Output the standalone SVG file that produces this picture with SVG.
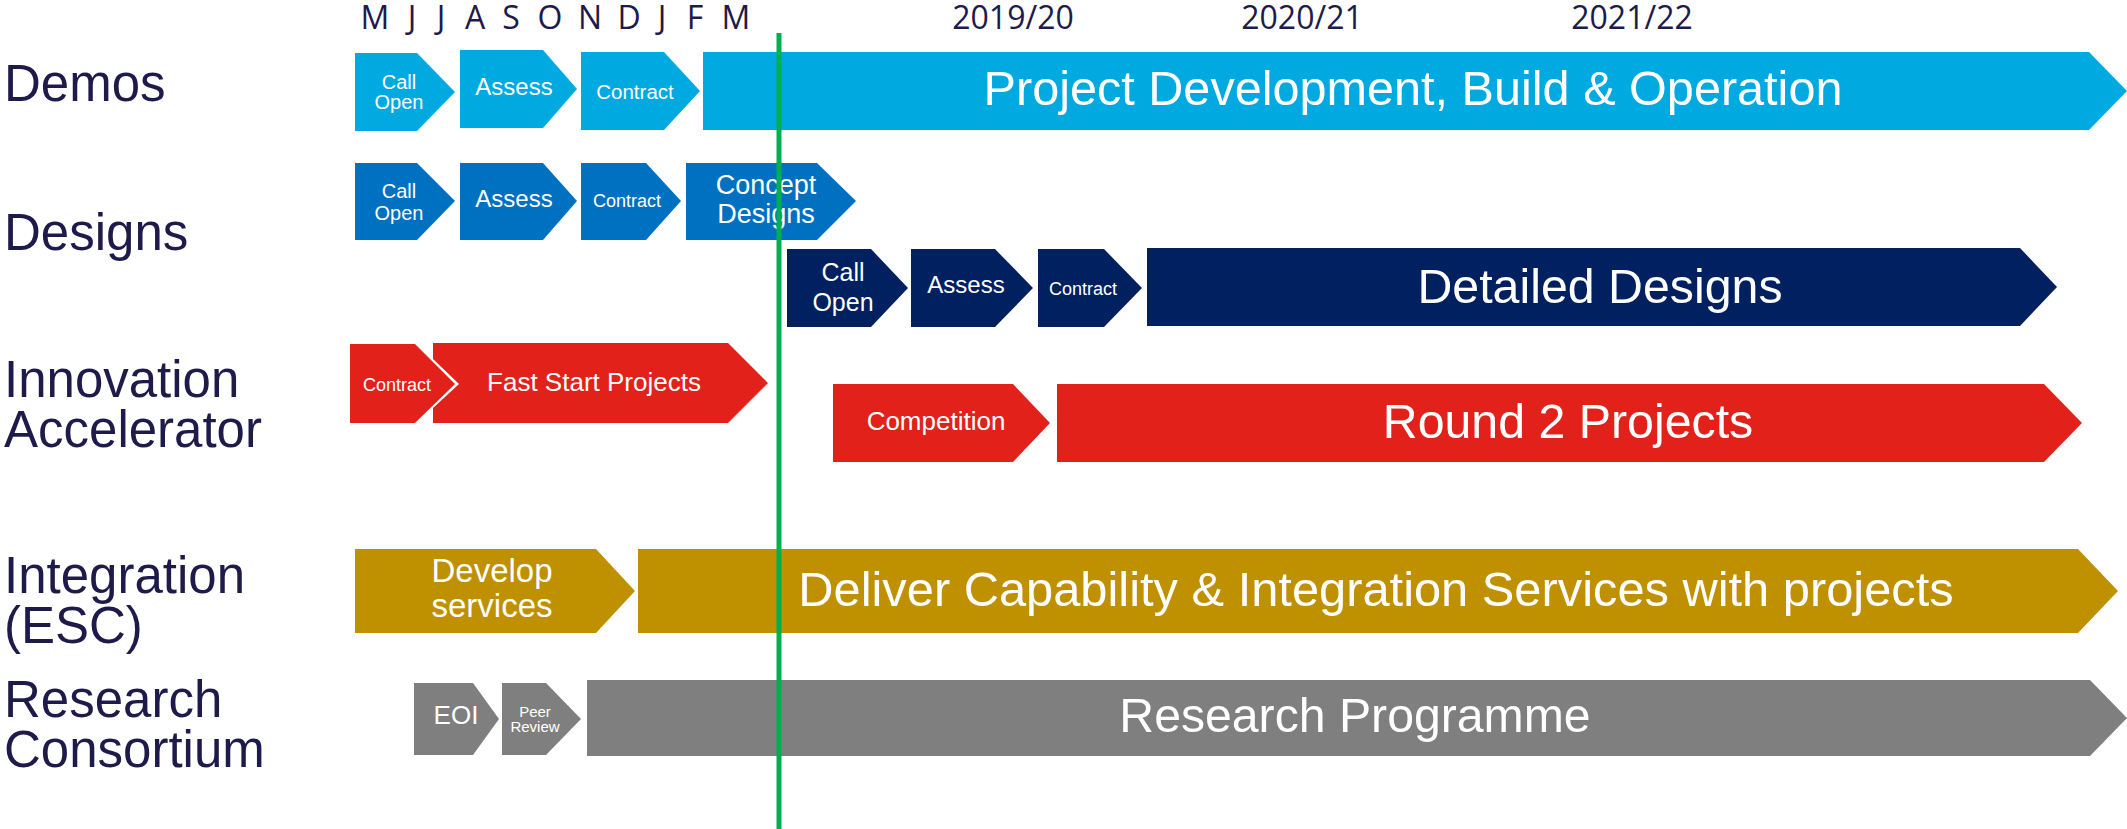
<svg xmlns="http://www.w3.org/2000/svg" width="2127" height="829" viewBox="0 0 2127 829">
<style>
  .lbl { font-family: "Liberation Sans", Arial, sans-serif; font-size: 51px; fill: #1E1A4A; }
  .hdr { font-family: "Open Sans", "Liberation Sans", sans-serif; font-size: 32px; fill: #1E1A4A; text-anchor: middle; }
  .t { font-family: "Liberation Sans", Arial, sans-serif; fill: #FFFFFF; text-anchor: middle; }
  .demo { fill: #00A9E0; }
  .des { fill: #0070C0; }
  .det { fill: #002060; }
  .red { fill: #E2211A; }
  .gold { fill: #BF9000; }
  .grey { fill: #7F7F7F; }
  .now { stroke: #00B050; stroke-width: 5; }
</style>
<rect width="2127" height="829" fill="#FFFFFF"/>

<g id="header">
  <text class="hdr" x="375" y="29">M</text>
  <text class="hdr" x="412" y="29">J</text>
  <text class="hdr" x="441" y="29">J</text>
  <text class="hdr" x="475" y="29">A</text>
  <text class="hdr" x="511" y="29">S</text>
  <text class="hdr" x="550" y="29">O</text>
  <text class="hdr" x="590" y="29">N</text>
  <text class="hdr" x="629" y="29">D</text>
  <text class="hdr" x="662" y="29">J</text>
  <text class="hdr" x="695" y="29">F</text>
  <text class="hdr" x="736" y="29">M</text>
  <text class="hdr" x="1013" y="29">2019/20</text>
  <text class="hdr" x="1302" y="29">2020/21</text>
  <text class="hdr" x="1632" y="29">2021/22</text>
</g>

<g id="row-labels">
  <text class="lbl" x="4" y="101">Demos</text>
  <text class="lbl" x="4" y="250">Designs</text>
  <text class="lbl" x="4" y="397">Innovation</text>
  <text class="lbl" x="4" y="447">Accelerator</text>
  <text class="lbl" x="4" y="593">Integration</text>
  <text class="lbl" x="4" y="643">(ESC)</text>
  <text class="lbl" x="4" y="717">Research</text>
  <text class="lbl" x="4" y="767">Consortium</text>
</g>

<!-- Demos row -->
<g id="demos-call-open">
  <polygon class="demo" points="355,53 417,53 455,92 417,131 355,131"/>
  <text class="t" x="399" y="89" font-size="20">Call</text>
  <text class="t" x="399" y="109" font-size="20">Open</text>
</g>
<g id="demos-assess">
  <polygon class="demo" points="460,50 543,50 577,89 543,128 460,128"/>
  <text class="t" x="514" y="95" font-size="24">Assess</text>
</g>
<g id="demos-contract">
  <polygon class="demo" points="581,52 664,52 700,91 664,130 581,130"/>
  <text class="t" x="635" y="99" font-size="20.5">Contract</text>
</g>
<g id="demos-project">
  <polygon class="demo" points="703,52 2089,52 2127,91 2089,130 703,130"/>
  <text class="t" x="1413" y="105" font-size="48.6">Project Development, Build &amp; Operation</text>
</g>

<!-- Designs row -->
<g id="designs-call-open">
  <polygon class="des" points="355,163 417,163 455,201 417,240 355,240"/>
  <text class="t" x="399" y="198" font-size="20">Call</text>
  <text class="t" x="399" y="220" font-size="20">Open</text>
</g>
<g id="designs-assess">
  <polygon class="des" points="460,163 543,163 577,201 543,240 460,240"/>
  <text class="t" x="514" y="207" font-size="24">Assess</text>
</g>
<g id="designs-contract">
  <polygon class="des" points="581,163 646,163 681,201 646,240 581,240"/>
  <text class="t" x="627" y="207" font-size="18">Contract</text>
</g>
<g id="designs-concept">
  <polygon class="des" points="686,163 817,163 856,201 817,240 686,240"/>
  <text class="t" x="766" y="194" font-size="27">Concept</text>
  <text class="t" x="766" y="223" font-size="27">Designs</text>
</g>

<!-- Detailed designs row -->
<g id="detailed-call-open">
  <polygon class="det" points="787,249 871,249 908,288 871,327 787,327"/>
  <text class="t" x="843" y="281" font-size="25">Call</text>
  <text class="t" x="843" y="311" font-size="25">Open</text>
</g>
<g id="detailed-assess">
  <polygon class="det" points="911,249 995,249 1033,288 995,327 911,327"/>
  <text class="t" x="966" y="293" font-size="24">Assess</text>
</g>
<g id="detailed-contract">
  <polygon class="det" points="1038,249 1104,249 1142,288 1104,327 1038,327"/>
  <text class="t" x="1083" y="295" font-size="18">Contract</text>
</g>
<g id="detailed-designs">
  <polygon class="det" points="1147,248 2020,248 2057,287 2020,326 1147,326"/>
  <text class="t" x="1600" y="303" font-size="48.3">Detailed Designs</text>
</g>

<!-- Innovation Accelerator row -->
<g id="ia-contract">
  <polygon class="red" points="350,344 415,344 455,384 415,423 350,423"/>
  <text class="t" x="397" y="391" font-size="18">Contract</text>
</g>
<g id="ia-fast-start">
  <polygon class="red" points="433,343 728,343 768,383 728,423 433,423 433,408 459,384 433,359"/>
  <text class="t" x="594" y="391" font-size="26">Fast Start Projects</text>
</g>
<g id="ia-competition">
  <polygon class="red" points="833,384 1013,384 1050,423 1013,462 833,462"/>
  <text class="t" x="936" y="430" font-size="26">Competition</text>
</g>
<g id="ia-round2">
  <polygon class="red" points="1057,384 2044,384 2082,423 2044,462 1057,462"/>
  <text class="t" x="1568" y="438" font-size="48.3">Round 2 Projects</text>
</g>

<!-- Integration row -->
<g id="esc-develop">
  <polygon class="gold" points="355,549 596,549 635,591 596,633 355,633"/>
  <text class="t" x="492" y="582" font-size="33">Develop</text>
  <text class="t" x="492" y="617" font-size="33">services</text>
</g>
<g id="esc-deliver">
  <polygon class="gold" points="638,549 2078,549 2118,591 2078,633 638,633"/>
  <text class="t" x="1376" y="606" font-size="48.8">Deliver Capability &amp; Integration Services with projects</text>
</g>

<!-- Research row -->
<g id="rc-eoi">
  <polygon class="grey" points="414,683 473,683 499,719 473,755 414,755"/>
  <text class="t" x="456" y="724" font-size="26">EOI</text>
</g>
<g id="rc-peer-review">
  <polygon class="grey" points="502,683 546,683 581,719 546,755 502,755"/>
  <text class="t" x="535" y="717" font-size="15">Peer</text>
  <text class="t" x="535" y="732" font-size="15">Review</text>
</g>
<g id="rc-programme">
  <polygon class="grey" points="587,680 2090,680 2127,718 2090,756 587,756"/>
  <text class="t" x="1355" y="732" font-size="48.2">Research Programme</text>
</g>

<g id="connectors">
  <line class="now" x1="779" y1="33" x2="779" y2="829"/>
</g>
</svg>
